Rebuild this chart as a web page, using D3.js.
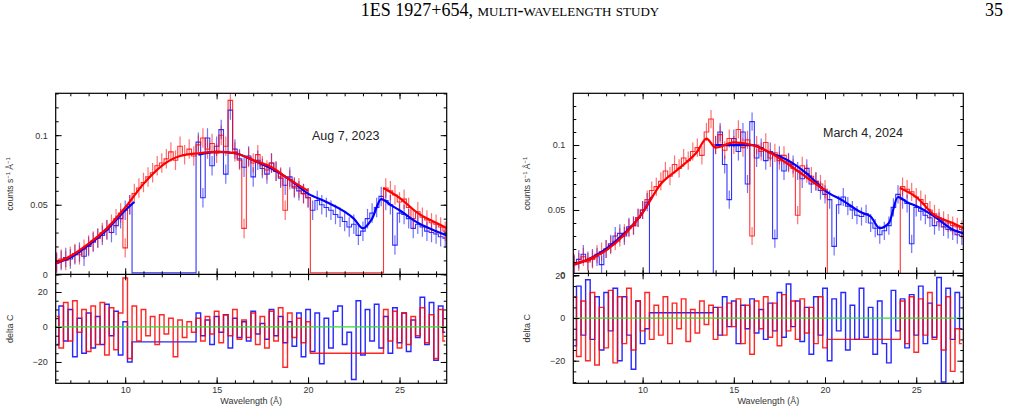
<!DOCTYPE html>
<html><head><meta charset="utf-8">
<script src="https://cdn.jsdelivr.net/npm/d3@7"></script>
<style>
body{margin:0;background:#fff;}
text{font-family:"Liberation Sans",Arial,sans-serif;}
.hdr{font-family:"Liberation Serif","DejaVu Serif",serif;font-size:18px;}
</style></head><body>
<svg id="fig" width="1017" height="411"></svg>
<script>
// wavelength bins (Å), 0.25 Å wide
const waves = d3.range(6.25, 27.51, 0.25);

// ---------- Aug 7, 2023 ----------
const augModelBlueX = [6.2,7,8,9,10,10.5,14,15,16,17,18,19,20,21,22,22.5,23,23.5,24,24.5,25,26,27,27.6];
const augModelBlueY = [0.008,0.012,0.021,0.032,0.046,0.052,0.086,0.088,0.087,0.082,0.076,0.068,0.058,0.052,0.045,0.040,0.033,0.040,0.054,0.050,0.046,0.037,0.031,0.028];
const augModelRedX = [6.2,7,8,9,10,11,12,13,14,15,16,17,18,19,20,24.1,25,26,27,27.6];
const augModelRedY = [0.008,0.013,0.022,0.033,0.048,0.065,0.078,0.085,0.087,0.088,0.087,0.082,0.077,0.068,0.060,0.062,0.055,0.044,0.037,0.033];
const augBlue = [0.008,0.010,0.012,0.011,0.014,0.016,0.013,0.020,0.023,0.026,0.028,0.032,0.030,0.035,0.040,0.046,0.050,
  0.001,0.001,0.001,0.001,0.001,0.001,0.001,0.001,0.001,0.001,0.001,0.001,0.001,0.001,
  0.095,0.055,0.098,0.078,0.092,0.104,0.072,0.118,0.090,0.083,0.077,0.085,0.070,0.082,0.076,0.072,0.080,0.074,0.069,0.064,
  0.070,0.062,0.060,0.058,0.055,0.046,0.053,0.050,0.048,0.046,0.043,0.041,0.038,0.034,0.036,0.028,0.031,0.040,0.044,0.048,
  0.056,0.053,0.050,0.021,0.044,0.043,0.040,0.033,0.036,0.034,0.031,0.030,0.029,0.027,0.026];
const augRed = [0.009,0.011,0.010,0.013,0.015,0.014,0.018,0.021,0.024,0.026,0.030,0.032,0.036,0.040,0.044,0.019,0.050,0.058,0.062,0.066,
  0.070,0.073,0.078,0.080,0.083,0.088,0.082,0.092,0.086,0.090,0.085,0.093,0.098,0.090,0.094,0.087,0.100,0.092,0.125,0.088,
  0.082,0.033,0.084,0.080,0.086,0.078,0.075,0.080,0.074,0.070,0.046,0.068,0.063,0.062,0.058,0.055,
  0.001,0.001,0.001,0.001,0.001,0.001,0.001,0.001,0.001,0.001,0.001,0.001,0.001,0.001,0.001,0.001,
  0.062,0.060,0.057,0.052,0.054,0.048,0.040,0.045,0.041,0.039,0.037,0.036,0.034,0.031];
const augBlueRes = [-10,12,-8,10,-17,5,-15,8,-12,6,-10,13,-5,9,-16,3,-20,
  -8.5,-8.5,-8.5,-8.5,-8.5,-8.5,-8.5,-8.5,-8.5,-8.5,-8.5,-8.5,-8.5,-8.5,
  8,-5,4,-10,6,-3,7,-12,5,-6,3,-8,9,-4,2,-7,10,-5,6,-9,3,-11,8,-17,10,-14,8,-21,5,-12,
  9,12,-10,-3,-30,15,-16,10,-8,13,-12,6,-15,11,-9,8,-14,4,-6,17,-10,14,-19,12,-3];
const augRedRes = [6,-12,14,-8,15,-3,10,-14,12,-10,14,-16,11,-13,8,28,-18,12,-8,10,-5,6,-10,7,-4,5,-17,4,-6,3,
  -3,5,-8,6,-4,9,-9,7,-5,10,-7,4,-6,8,-10,6,-12,9,-8,11,-23,8,-6,5,-9,3,
  -15,-15,-15,-15,-15,-15,-15,-15,-15,-15,-15,-15,-15,-15,-15,-15,
  10,-8,9,-12,8,-10,6,-5,11,-9,7,-18,10,-8];

// ---------- March 4, 2024 ----------
const marModelBlueX = [6.2,7,8,9,10,10.5,14,15,16,17,18,19,20,21,22,22.5,23,23.5,24,24.5,25,26,27,27.6];
const marModelBlueY = [0.008,0.012,0.020,0.032,0.048,0.060,0.100,0.100,0.100,0.094,0.088,0.078,0.065,0.057,0.048,0.045,0.036,0.040,0.060,0.056,0.053,0.045,0.035,0.032];
const marModelRedX = [6.2,8,9,10,11,12,13,13.5,14,15,16,17,18,19,20,24.1,25,26,27,27.6];
const marModelRedY = [0.008,0.019,0.031,0.048,0.070,0.082,0.095,0.105,0.098,0.102,0.100,0.094,0.085,0.075,0.065,0.067,0.060,0.046,0.040,0.036];
const marBlue = [0.008,0.012,0.016,0.011,0.013,0.014,0.008,0.020,0.024,0.030,0.032,0.030,0.037,0.038,0.044,0.050,0.056,
  0.001,0.001,0.001,0.001,0.001,0.001,0.001,0.001,0.001,0.001,0.001,0.001,0.001,0.001,
  0.100,0.110,0.085,0.058,0.105,0.095,0.110,0.070,0.118,0.090,0.098,0.088,0.095,0.028,0.092,0.080,0.087,0.085,0.080,0.074,
  0.082,0.070,0.072,0.065,0.062,0.058,0.022,0.054,0.060,0.053,0.050,0.046,0.045,0.047,0.040,0.036,0.031,0.034,0.038,0.052,
  0.062,0.058,0.055,0.024,0.052,0.049,0.046,0.044,0.038,0.041,0.037,0.035,0.034,0.031,0.030];
const marRed = [0.009,0.010,0.014,0.010,0.012,0.016,0.018,0.020,0.023,0.026,0.029,0.032,0.036,0.038,0.044,0.050,0.058,0.065,0.068,0.072,
  0.080,0.076,0.085,0.082,0.090,0.088,0.095,0.098,0.092,0.110,0.120,0.100,0.108,0.096,0.105,0.100,0.112,0.098,0.104,0.030,
  0.100,0.095,0.102,0.090,0.094,0.088,0.092,0.086,0.082,0.046,0.084,0.078,0.076,0.072,0.070,0.066,
  0.001,0.001,0.001,0.001,0.001,0.001,0.001,0.001,0.001,0.001,0.001,0.001,0.001,0.001,0.001,0.001,
  0.068,0.066,0.064,0.060,0.058,0.055,0.050,0.047,0.044,0.042,0.040,0.038,0.037,0.035];
const marBlueRes = [-13,15,-8,18,-10,10,-15,12,-6,14,-20,10,-8,-24,8,-12,-5,
  2.5,2.5,2.5,2.5,2.5,2.5,2.5,2.5,2.5,2.5,2.5,2.5,2.5,2.5,
  5,-8,10,-4,8,-12,6,-5,9,-7,4,-10,7,-6,12,-9,16,-4,8,-11,5,-17,10,-8,14,-20,9,-6,12,-15,
  6,-10,14,-9,5,-17,8,-12,-21,13,-6,9,-14,11,-8,15,-12,7,-9,19,-30,14,-10,12,-5];
const marRedRes = [10,-18,8,-20,12,-22,5,-14,13,-21,10,-12,14,-15,8,-6,12,-10,6,-8,10,-12,7,-5,9,-11,4,-7,8,-3,
  6,-10,5,-8,7,-4,9,-12,6,-17,8,-5,10,-9,7,-13,11,-6,8,-10,9,-7,5,-12,10,-14,
  -10,-10,-10,-10,-10,-10,-10,-10,-10,-10,-10,-10,-10,-10,-10,-10,
  8,-12,10,-16,9,-8,12,-10,6,-15,10,-25,-5,-12];

const svg = d3.select("#fig");
svg.append("text").attr("class","hdr").attr("x",510).attr("y",16).attr("text-anchor","middle")
  .style("font-variant","small-caps").text("1ES 1927+654, multi-wavelength study");
svg.append("text").attr("class","hdr").attr("x",1003).attr("y",16).attr("text-anchor","end").text("35");

function panel(opt) {
  const x = d3.scaleLinear([6.2, 27.58], [opt.left, opt.right]);
  const yU = d3.scaleLinear(opt.uDom, [opt.mid, opt.top]);
  const yL = d3.scaleLinear(opt.lDom, [opt.bottom, opt.mid]);
  const g = svg.append("g");
  const clipU = "cu" + opt.left, clipL = "cl" + opt.left;
  g.append("clipPath").attr("id", clipU).append("rect")
    .attr("x", opt.left).attr("y", opt.top).attr("width", opt.right-opt.left).attr("height", opt.mid-opt.top);
  g.append("clipPath").attr("id", clipL).append("rect")
    .attr("x", opt.left).attr("y", opt.mid).attr("width", opt.right-opt.left).attr("height", opt.bottom-opt.mid);
  const up = g.append("g").attr("clip-path", `url(#${clipU})`);
  const lo = g.append("g").attr("clip-path", `url(#${clipL})`);

  const stepU = d3.line().x((d,i)=>x(waves[i])).y(d=>yU(d)).curve(d3.curveStep);
  const stepL = d3.line().x((d,i)=>x(waves[i])).y(d=>yL(d)).curve(d3.curveStep);
  const smooth = d3.line().x(d=>x(d[0])).y(d=>yU(d[1])).curve(d3.curveMonotoneX);

  [[opt.blue,"#0000ff"],[opt.red,"#ff0000"]].forEach(([arr,c]) => {
    up.append("path").attr("d", stepU(arr)).attr("fill","none").attr("stroke",c).attr("stroke-width",1.1).attr("opacity",0.8);
    up.selectAll(null).data(arr.map((v,i)=>[waves[i],v]).filter(d=>d[1]>0.002)).enter().append("line")
      .attr("x1",d=>x(d[0])).attr("x2",d=>x(d[0]))
      .attr("y1",d=>yU(d[1]+0.007)).attr("y2",d=>yU(d[1]-0.007))
      .attr("stroke",c).attr("stroke-width",1.2).attr("opacity",0.55);
  });
  [[opt.mbX,opt.mbY,"#0000ff"],[opt.mrX,opt.mrY,"#ff0000"]].forEach(([xs,ys,c]) => {
    const pts = xs.map((v,i)=>[v,ys[i]]);
    const gapIdx = xs.findIndex((v,i)=>i>0 && v-xs[i-1]>3);
    const segs = gapIdx > 0 ? [pts.slice(0,gapIdx), pts.slice(gapIdx)] : [pts];
    segs.forEach(s => up.append("path").attr("d", smooth(s)).attr("fill","none").attr("stroke",c).attr("stroke-width",2.2));
  });

  lo.append("path").attr("d", stepL(opt.blueRes)).attr("fill","none").attr("stroke","#0000ff").attr("stroke-width",1.4).attr("opacity",0.85);
  lo.append("path").attr("d", stepL(opt.redRes)).attr("fill","none").attr("stroke","#ff0000").attr("stroke-width",1.4).attr("opacity",0.85);
  lo.append("line").attr("x1",opt.left).attr("x2",opt.right).attr("y1",yL(0)).attr("y2",yL(0))
    .attr("stroke","#33dd33").attr("stroke-width",1.3);

  // frames and ticks
  const ax = (sel) => sel.selectAll("text").style("font-size","9px").attr("fill","#333");
  const clean = (sel) => { sel.select(".domain").remove(); sel.selectAll("line").attr("stroke","#000"); };
  const xMaj = [10,15,20,25], xMin = d3.range(7,28,1);
  [[opt.mid, opt.top],[opt.bottom, opt.mid]].forEach(([yb,yt],k) => {
    const b = g.append("g").attr("transform",`translate(0,${yb})`)
      .call(d3.axisBottom(x).tickValues(xMaj).tickSizeInner(-6).tickSizeOuter(0).tickPadding(3).tickFormat(k===1?d3.format("d"):""));
    clean(b); ax(b);
    g.append("g").attr("transform",`translate(0,${yb})`).call(d3.axisBottom(x).tickValues(xMin).tickSize(-3).tickFormat("")).call(clean);
    g.append("g").attr("transform",`translate(0,${yt})`).call(d3.axisTop(x).tickValues(xMaj).tickSize(-6).tickFormat("")).call(clean);
    g.append("g").attr("transform",`translate(0,${yt})`).call(d3.axisTop(x).tickValues(xMin).tickSize(-3).tickFormat("")).call(clean);
  });
  const yAx = (scale, maj, minr, fmt) => {
    const l = g.append("g").attr("transform",`translate(${opt.left},0)`)
      .call(d3.axisLeft(scale).tickValues(maj).tickSize(-6).tickPadding(8).tickFormat(fmt));
    clean(l); ax(l);
    g.append("g").attr("transform",`translate(${opt.left},0)`).call(d3.axisLeft(scale).tickValues(minr).tickSize(-3).tickFormat("")).call(clean);
    g.append("g").attr("transform",`translate(${opt.right},0)`).call(d3.axisRight(scale).tickValues(maj).tickSize(-6).tickFormat("")).call(clean);
    g.append("g").attr("transform",`translate(${opt.right},0)`).call(d3.axisRight(scale).tickValues(minr).tickSize(-3).tickFormat("")).call(clean);
  };
  yAx(yU, [0,0.05,0.1], d3.range(0.01,opt.uDom[1],0.01), d=>d===0?"0":d3.format("")(d));
  yAx(yL, [-20,0,20], d3.range(-30,opt.lDom[1],5), d3.format("d"));

  g.append("rect").attr("x",opt.left).attr("y",opt.top).attr("width",opt.right-opt.left).attr("height",opt.bottom-opt.top)
    .attr("fill","none").attr("stroke","#000").attr("stroke-width",1.2);
  g.append("line").attr("x1",opt.left).attr("x2",opt.right).attr("y1",opt.mid).attr("y2",opt.mid).attr("stroke","#000").attr("stroke-width",1.2);

  const lx = opt.left - 43;
  g.append("text").attr("transform",`translate(${lx},${(opt.top+opt.mid)/2}) rotate(-90)`).attr("text-anchor","middle")
    .style("font-size","8.5px").attr("fill","#333").html("counts s<tspan dy='-3' font-size='6'>−1</tspan><tspan dy='3'> Å</tspan><tspan dy='-3' font-size='6'>−1</tspan>");
  g.append("text").attr("transform",`translate(${lx},${(opt.mid+opt.bottom)/2}) rotate(-90)`).attr("text-anchor","middle")
    .style("font-size","9px").attr("fill","#333").text("delta C");
  g.append("text").attr("x",(opt.left+opt.right)/2).attr("y",404).attr("text-anchor","middle")
    .style("font-size","9px").attr("fill","#333").text("Wavelength (Å)");
  g.append("text").attr("x",opt.labX).attr("y",opt.labY).style("font-size","12.5px").attr("fill","#222").text(opt.label);
}

panel({left:55.7,right:446.7,top:93.3,mid:274.3,bottom:383.3,uDom:[0,0.1301],lDom:[-32.2,30.1],
  blue:augBlue,red:augRed,blueRes:augBlueRes,redRes:augRedRes,
  mbX:augModelBlueX,mbY:augModelBlueY,mrX:augModelRedX,mrY:augModelRedY,label:"Aug 7, 2023",labX:312,labY:140});
panel({left:573.3,right:963.3,top:93.3,mid:273.3,bottom:383.3,uDom:[0.0013,0.1398],lDom:[-30.6,21],
  blue:marBlue,red:marRed,blueRes:marBlueRes,redRes:marRedRes,
  mbX:marModelBlueX,mbY:marModelBlueY,mrX:marModelRedX,mrY:marModelRedY,label:"March 4, 2024",labX:823,labY:137});
</script></body></html>
